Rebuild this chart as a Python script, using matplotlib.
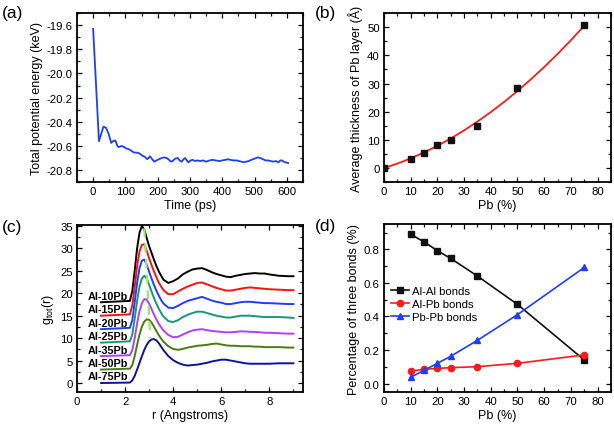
import matplotlib
matplotlib.use("Agg")
import matplotlib.pyplot as plt
from matplotlib.ticker import MultipleLocator, FormatStrFormatter

plt.rcParams['font.family'] = ['Liberation Sans', 'DejaVu Sans']
plt.rcParams['mathtext.fontset'] = 'custom'
plt.rcParams['mathtext.rm'] = 'Liberation Sans'
plt.rcParams['mathtext.it'] = 'Liberation Sans'
plt.rcParams['axes.unicode_minus'] = False

# ---------------- (a) total potential energy ----------------
time_ps = [0, 18, 25, 32, 40, 48, 56,
           62, 69, 75, 79, 88, 95, 102, 110, 118, 126,
           134, 142, 152, 160, 168, 176, 183, 189, 196, 204,
           212, 220, 228, 235, 241, 246, 254, 262, 268, 274,
           280, 285, 290, 295, 302, 308, 316, 323, 332, 340,
           350, 360, 370, 380, 390, 400, 410, 417, 425, 435,
           445, 452, 459, 466, 474, 482, 490, 500, 510, 518,
           526, 534, 542, 550, 558, 566, 574, 580, 585, 590,
           596, 604]
energy_kev = [-19.63, -20.56, -20.50, -20.44, -20.45, -20.50, -20.575,
              -20.56, -20.555, -20.60, -20.61, -20.60, -20.607, -20.62, -20.626, -20.64, -20.654,
              -20.655, -20.66, -20.68, -20.69, -20.71, -20.686, -20.71, -20.73, -20.72, -20.71,
              -20.70, -20.695, -20.70, -20.715, -20.73, -20.725, -20.705, -20.70, -20.72, -20.73,
              -20.71, -20.70, -20.72, -20.735, -20.72, -20.715, -20.725, -20.72, -20.725, -20.72,
              -20.73, -20.72, -20.715, -20.72, -20.725, -20.72, -20.715, -20.71, -20.715, -20.72,
              -20.72, -20.725, -20.73, -20.735, -20.73, -20.725, -20.715, -20.705, -20.695, -20.70,
              -20.71, -20.72, -20.72, -20.725, -20.73, -20.725, -20.735, -20.72, -20.72, -20.73,
              -20.735, -20.742]

# ---------------- (b) thickness of Pb layer ----------------
pb_b = [0, 10, 15, 20, 25, 35, 50, 75]
thick_b = [0, 3.1, 5.4, 8.2, 10.0, 15.0, 28.5, 50.6]
fit_x = [0, 5, 10, 15, 20, 25, 30, 35, 40, 45, 50, 55, 60, 65, 70, 75]
fit_y = [0, 1.6, 3.45, 5.56, 7.91, 10.52, 13.38, 16.5, 19.87, 23.48, 27.35,
         31.48, 35.85, 40.49, 45.37, 50.5]

# ---------------- (c) g_tot(r) ----------------
r_grid = [1.0, 2.2, 2.3, 2.4, 2.5, 2.6, 2.7, 2.8, 2.9, 3.0,
          3.1, 3.2, 3.3, 3.4, 3.5, 3.6, 3.8, 4.0, 4.2, 4.4,
          4.6, 4.8, 5.0, 5.2, 5.4, 5.6, 5.8, 6.0, 6.2, 6.4,
          6.6, 6.8, 7.0, 7.2, 7.4, 7.6, 7.8, 8.0, 8.4, 8.8,
          9.0]
g_10 = [18, 18.3, 20.5, 25, 30, 33.5, 35, 34.2, 32.3, 30.5,
        29, 27.5, 26.1, 24.9, 23.9, 23.0, 22.3, 22.7, 23.3, 24.2,
        24.8, 25.3, 25.5, 25.6, 25.2, 24.7, 24.3, 24.0, 23.7, 23.6,
        23.9, 24.1, 24.3, 24.4, 24.5, 24.4, 24.4, 24.2, 23.9, 23.8,
        23.8]
g_15 = [15, 15.3, 17.3, 21.5, 26, 29.3, 30.8, 30.9, 29.5, 27.8,
        26.3, 24.9, 23.6, 22.4, 21.5, 20.7, 19.8, 19.8, 20.4, 21.0,
        21.5, 21.9, 22.3, 22.4, 22.0, 21.6, 21.2, 20.9, 20.6, 20.6,
        20.8, 21.0, 21.2, 21.3, 21.2, 21.1, 21.0, 20.9, 20.8, 20.7,
        20.7]
g_20 = [12, 12.3, 14, 18, 22.3, 25.6, 27.3, 27.5, 26.4, 24.8,
        23.3, 21.9, 20.6, 19.5, 18.5, 17.7, 16.8, 16.7, 17.2, 17.8,
        18.3, 18.6, 18.9, 19.2, 18.8, 18.4, 18.1, 17.9, 17.6, 17.6,
        17.8, 18.0, 18.1, 18.1, 18.0, 17.9, 17.8, 17.8, 17.7, 17.6,
        17.6]
g_25 = [9, 9.3, 10.8, 14.3, 18.3, 21.5, 23.3, 23.9, 23.3, 21.9,
        20.4, 19.0, 17.7, 16.6, 15.6, 14.8, 13.8, 13.6, 14.0, 14.7,
        15.2, 15.6, 15.9, 15.9, 15.6, 15.3, 15.0, 14.8, 14.6, 14.6,
        14.8, 15.0, 15.0, 15.0, 14.9, 14.8, 14.7, 14.7, 14.7, 14.6,
        14.5]
g_35 = [6, 6.2, 7.3, 10, 13.3, 16.0, 17.8, 18.7, 18.6, 17.7,
        16.5, 15.3, 14.2, 13.2, 12.4, 11.7, 10.7, 10.2, 10.3, 10.8,
        11.3, 11.7, 11.9, 12.0, 11.8, 11.6, 11.5, 11.4, 11.3, 11.3,
        11.4, 11.5, 11.5, 11.4, 11.4, 11.3, 11.2, 11.2, 11.1, 11.0,
        11.0]
g_50 = [3, 3.2, 4.0, 6.0, 8.5, 10.8, 12.6, 13.7, 14.2, 14.1,
        13.5, 12.6, 11.6, 10.7, 9.9, 9.2, 8.2, 7.6, 7.4, 7.6,
        7.9, 8.1, 8.3, 8.4, 8.5, 8.7, 8.8, 8.6, 8.4, 8.3,
        8.3, 8.2, 8.2, 8.2, 8.1, 8.1, 8.0, 8.0, 8.0, 7.9,
        7.9]
g_75 = [0, 0.1, 0.6, 1.6, 3.0, 4.5, 6.0, 7.4, 8.5, 9.3,
        9.7, 9.8, 9.5, 8.9, 8.1, 7.3, 6.0, 5.1, 4.5, 4.1,
        3.9, 4.0, 4.1, 4.3, 4.5, 4.8, 5.0, 5.2, 5.2, 5.0,
        4.8, 4.6, 4.4, 4.3, 4.3, 4.3, 4.3, 4.3, 4.4, 4.4,
        4.4]
c_labels = ['Al-10Pb', 'Al-15Pb', 'Al-20Pb', 'Al-25Pb', 'Al-35Pb', 'Al-50Pb', 'Al-75Pb']
c_baselines = [18, 15, 12, 9, 6, 3, 0]
peak_guide_r = [2.8, 3.05]
peak_guide_g = [34.5, 10.0]

# ---------------- (d) bond percentages ----------------
pb_d = [10, 15, 20, 25, 35, 50, 75]
al_al = [0.889, 0.845, 0.792, 0.746, 0.641, 0.472, 0.141]
al_pb = [0.075, 0.085, 0.091, 0.095, 0.101, 0.121, 0.171]
pb_pb = [0.038, 0.079, 0.121, 0.163, 0.258, 0.411, 0.692]

TICK_FS = 8.2
LABEL_FS = 9.0

fig = plt.figure(figsize=(6.14, 4.27), dpi=100)
axA = fig.add_axes([0.1254, 0.571, 0.3681, 0.396])
axB = fig.add_axes([0.6254, 0.571, 0.3696, 0.396])
axC = fig.add_axes([0.1254, 0.0796, 0.3681, 0.391])
axD = fig.add_axes([0.6254, 0.0796, 0.3696, 0.393])


def style(ax, xmaj, xmin, ymaj, ymin):
    ax.xaxis.set_major_locator(MultipleLocator(xmaj))
    ax.xaxis.set_minor_locator(MultipleLocator(xmin))
    ax.yaxis.set_major_locator(MultipleLocator(ymaj))
    ax.yaxis.set_minor_locator(MultipleLocator(ymin))
    ax.tick_params(which='both', direction='in', top=True, right=True,
                   labelsize=TICK_FS, width=0.9, pad=3)
    ax.tick_params(which='major', length=3.5)
    ax.tick_params(which='minor', length=2)
    for s in ax.spines.values():
        s.set_linewidth(1.3)


# (a)
axA.plot(time_ps, energy_kev, color='#1f3dff', lw=1.3)
axA.set_xlim(-50, 650)
axA.set_ylim(-20.9, -19.5)
style(axA, 100, 50, 0.2, 0.1)
axA.yaxis.set_major_formatter(FormatStrFormatter('%.1f'))
axA.set_xlabel('Time (ps)', fontsize=LABEL_FS, labelpad=2)
axA.set_ylabel('Total potential energy (keV)', fontsize=LABEL_FS, labelpad=3)

# (b)
axB.plot(fit_x, fit_y, color='#ff1a1a', lw=1.3, zorder=2)
axB.plot(pb_b, thick_b, 's', color='#111111', ms=5, zorder=3)
axB.set_xlim(0, 85)
axB.set_ylim(-5, 55)
style(axB, 10, 5, 10, 5)
axB.set_xlabel('Pb (%)', fontsize=LABEL_FS, labelpad=2)
axB.set_ylabel('Average thickness of Pb layer (\u00c5)', fontsize=LABEL_FS, labelpad=3)

# (c)
c_series = [g_10, g_15, g_20, g_25, g_35, g_50, g_75]
c_colors = ['#000000', '#ff1010', '#1f3dff', '#16977a', '#b040f0', '#4d7a12', '#10139a']
for g, col, lab, base in zip(c_series, c_colors, c_labels, c_baselines):
    axC.plot(r_grid, g, color=col, lw=1.4)
    axC.text(2.13, base + 0.35, lab, ha='right', va='bottom', fontsize=7.8,
             fontweight='bold')
axC.plot(peak_guide_r, peak_guide_g, color='#9be870', lw=1.6, ls=(0, (4, 3)), zorder=5)
axC.set_xlim(0, 9.4)
axC.set_ylim(-2, 35.2)
style(axC, 2, 1, 5, 2.5)
axC.set_xlabel('r (Angstroms)', fontsize=LABEL_FS, labelpad=2)
axC.set_ylabel(r'g$_{\mathrm{tot}}$(r)', fontsize=LABEL_FS, labelpad=3)

# (d)
axD.plot(pb_d, al_al, 's-', color='#111111', ms=4.5, lw=1.2, label='Al-Al bonds')
axD.plot(pb_d, al_pb, 'o-', color='#ff1a1a', ms=4.5, lw=1.2, label='Al-Pb bonds')
axD.plot(pb_d, pb_pb, '^-', color='#1f3dff', ms=5, lw=1.2, label='Pb-Pb bonds')
axD.set_xlim(0, 85)
axD.set_ylim(-0.05, 0.95)
style(axD, 10, 5, 0.2, 0.1)
axD.yaxis.set_major_formatter(FormatStrFormatter('%.1f'))
axD.set_xlabel('Pb (%)', fontsize=LABEL_FS, labelpad=2)
axD.set_ylabel('Percentage of three bonds (%)', fontsize=LABEL_FS, labelpad=3)
axD.legend(loc='upper left', bbox_to_anchor=(0.0, 0.672), frameon=False,
           fontsize=8.2, handlelength=1.6, handletextpad=0.25, labelspacing=0.25,
           borderaxespad=0.2)

# panel labels
fig.text(0.003, 0.968, '(a)', fontsize=12.5, va='center', ha='left')
fig.text(0.513, 0.968, '(b)', fontsize=12.5, va='center', ha='left')
fig.text(0.003, 0.468, '(c)', fontsize=12.5, va='center', ha='left')
fig.text(0.513, 0.47, '(d)', fontsize=12.5, va='center', ha='left')

fig.savefig('out.png', dpi=100)
